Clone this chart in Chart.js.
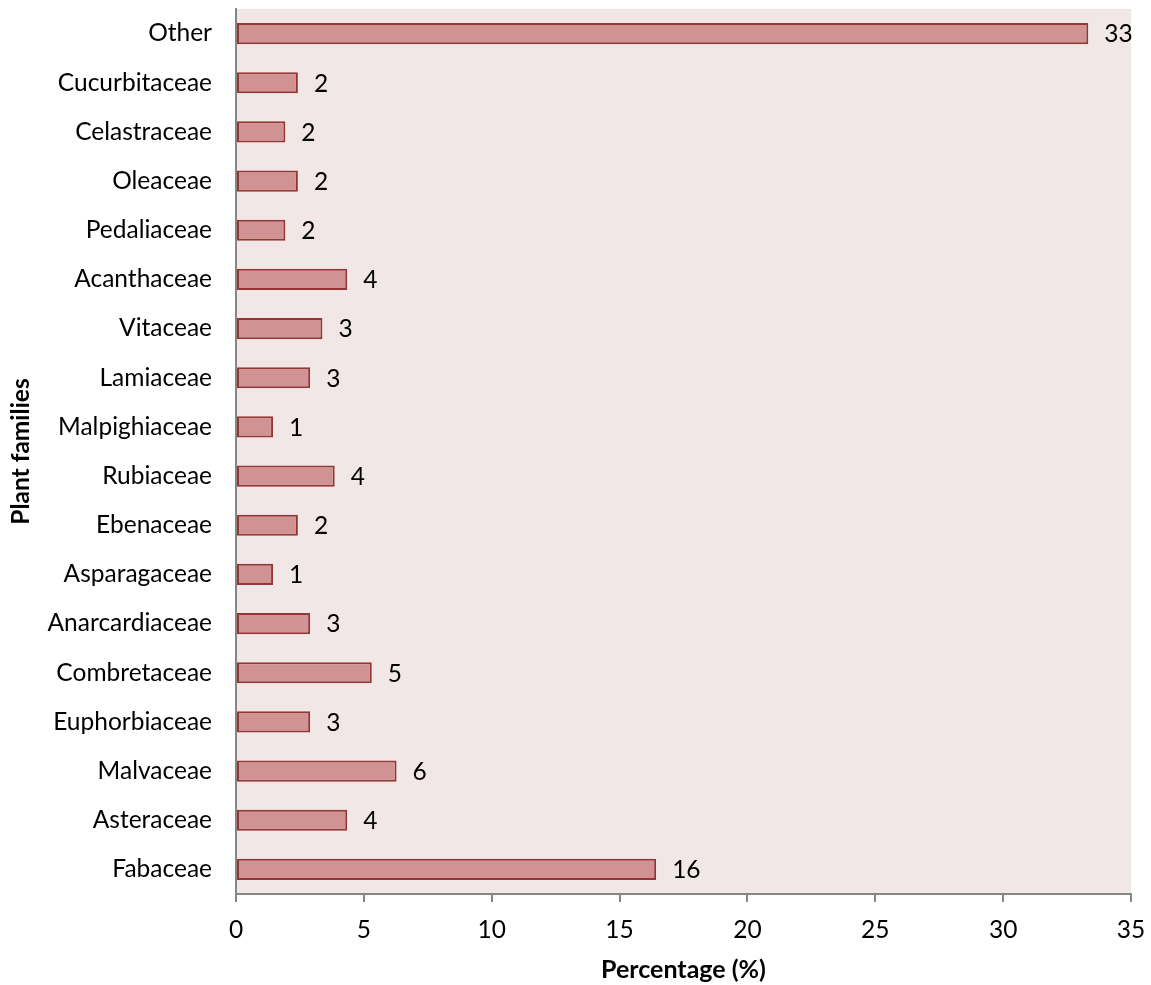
<!DOCTYPE html>
<html>
<head>
<meta charset="utf-8">
<script src="https://cdn.jsdelivr.net/npm/chart.js@4/dist/chart.umd.min.js"></script>
<style>
  html, body { margin: 0; padding: 0; background: #ffffff; }
  #wrap { width: 1151px; height: 985px; }
</style>
</head>
<body>
<div id="wrap"><canvas id="chart" width="1151" height="985"></canvas></div>
<script>
// Plant families, listed top to bottom
const families = [
  'Other', 'Cucurbitaceae', 'Celastraceae', 'Oleaceae', 'Pedaliaceae',
  'Acanthaceae', 'Vitaceae', 'Lamiaceae', 'Malpighiaceae', 'Rubiaceae',
  'Ebenaceae', 'Asparagaceae', 'Anarcardiaceae', 'Combretaceae',
  'Euphorbiaceae', 'Malvaceae', 'Asteraceae', 'Fabaceae'
];

// Share of species per family (%)
const percentages = [
  33.33, 2.42, 1.93, 2.42, 1.93,
  4.35, 3.38, 2.90, 1.45, 3.86,
  2.42, 1.45, 2.90, 5.31,
  2.90, 6.28, 4.35, 16.43
];

const xTicks = [0, 5, 10, 15, 20, 25, 30, 35];

const FONT = 'Lato, "Open Sans", sans-serif';
const TEXT_SIZE = 24.5;

// Fill behind the plotting area
const plotBackground = {
  id: 'plotBackground',
  beforeDraw(chart) {
    const { ctx, chartArea: a } = chart;
    ctx.save();
    ctx.fillStyle = '#F2E7E7';
    ctx.fillRect(a.left, a.top, a.right - a.left, a.bottom - a.top);
    ctx.restore();
  }
};

// Rounded value printed to the right of each bar
const valueLabels = {
  id: 'valueLabels',
  afterDatasetsDraw(chart) {
    const { ctx } = chart;
    const meta = chart.getDatasetMeta(0);
    const values = chart.data.datasets[0].data;
    ctx.save();
    ctx.font = TEXT_SIZE + 'px ' + FONT;
    ctx.fillStyle = '#000000';
    ctx.textAlign = 'left';
    ctx.textBaseline = 'middle';
    meta.data.forEach((bar, i) => {
      ctx.fillText(String(Math.round(values[i])), bar.x + 16, bar.y + 1);
    });
    ctx.restore();
  }
};

new Chart(document.getElementById('chart'), {
  type: 'bar',
  data: {
    labels: families,
    datasets: [{
      data: percentages,
      backgroundColor: '#D09292',
      borderColor: '#943634',
      borderWidth: 2,
      borderSkipped: false,
      barPercentage: 0.86,
      categoryPercentage: 0.5
    }]
  },
  options: {
    indexAxis: 'y',
    responsive: false,
    maintainAspectRatio: false,
    animation: false,
    layout: {
      autoPadding: false,
      padding: { top: 9, right: 20, left: 0, bottom: 0 }
    },
    plugins: {
      legend: { display: false },
      tooltip: { enabled: false }
    },
    scales: {
      x: {
        min: 0,
        max: 35,
        afterBuildTicks(scale) {
          scale.ticks = xTicks.map(v => ({ value: v }));
        },
        afterFit(scale) {
          scale.height = 91;
          scale.paddingLeft = 0;
          scale.paddingRight = 0;
        },
        grid: {
          drawOnChartArea: false,
          drawTicks: true,
          tickLength: 8,
          color: '#868686',
          lineWidth: 2
        },
        border: { display: true, color: '#868686', width: 2 },
        ticks: {
          color: '#000000',
          font: { family: FONT, size: TEXT_SIZE },
          padding: 13,
          maxRotation: 0
        },
        title: {
          display: true,
          text: 'Percentage (%)',
          color: '#000000',
          font: { family: FONT, size: 25, weight: 'bold' },
          padding: { top: 2, bottom: 0 }
        }
      },
      y: {
        afterFit(scale) {
          scale.width = 236;
          // category labels sit inside the band, no extra room above/below
          scale.paddingTop = 0;
          scale.paddingBottom = 0;
        },
        grid: { display: false, drawTicks: false },
        border: { display: true, color: '#868686', width: 2 },
        ticks: {
          color: '#000000',
          font: { family: FONT, size: TEXT_SIZE },
          padding: 24,
          autoSkip: false
        },
        title: {
          display: true,
          text: 'Plant families',
          color: '#000000',
          font: { family: FONT, size: 24.5, weight: 'bold' },
          padding: { top: 6, bottom: 0 }
        }
      }
    }
  },
  plugins: [plotBackground, valueLabels]
});
</script>
</body>
</html>
